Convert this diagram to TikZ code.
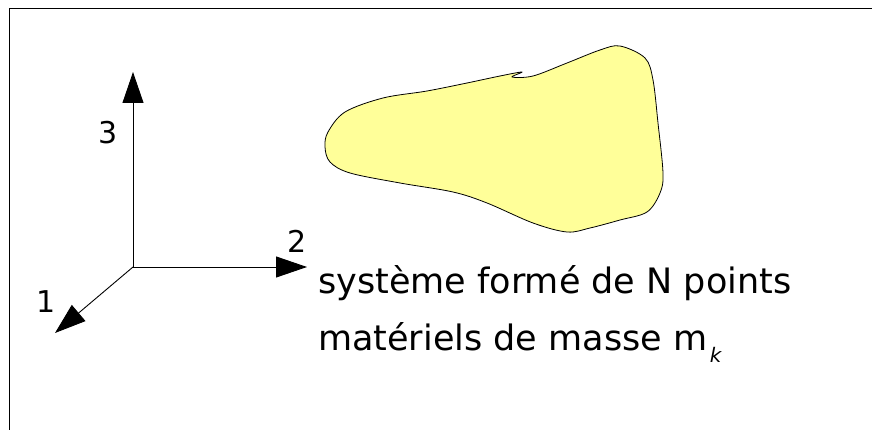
\documentclass[tikz,border=0pt]{standalone}
\usepackage{fontspec}
\setmainfont{DejaVu Sans}
\usetikzlibrary{arrows.meta}
\definecolor{blobfill}{HTML}{FFFF99}
\tikzset{
  axis/.style={line width=0.9pt, -{Triangle[length=31pt,width=21pt]}},
  lbl/.style={inner sep=0pt, font=\fontsize{30}{34}\selectfont},
  txt/.style={inner sep=0pt, anchor=base west, font=\fontsize{35}{40}\selectfont},
  subk/.style={inner sep=0pt, anchor=base west, font=\fontsize{20}{24}\selectfont\itshape},
  frame/.style={line width=1pt},
  blob/.style={draw=black, line width=0.8pt, fill=blobfill}
}
\begin{document}
\begin{tikzpicture}[x=1pt,y=-1pt]
\useasboundingbox (0,0) rectangle (872,430);
\draw[frame] (9,430) -- (9,9) -- (872,9);
% blob
\draw[blob] plot[smooth cycle, tension=0.55] coordinates {
 (620,46) (645,58) (653,80) (658,123) (663,173) (660,193) (647,212) (620,220)
 (590,228) (567,232) (533,223) (487,203) (453,192) (400,183) (350,173) (330,162)
 (325,147) (328,132) (345,112) (383,98) (427,91) (467,83) (500,76) (522,72)
 (512,77) (533,76) (567,63) (600,50)};
% axes
\coordinate (O) at (133,267);
\coordinate (T3) at (133,72);
\coordinate (T2) at (307,267);
\coordinate (T1) at (55,333);
\draw[axis] (O) -- (T3);
\draw[axis] (O) -- (T2);
\draw[axis] (O) -- (T1);
\node[lbl] (l3) at (108,133) {3};
\node[lbl] (l2) at (297,241) {2};
\node[lbl] (l1) at (46,302) {1};
\node[txt] (t1) at (318,293) {système formé de N points};
\node[txt] (t2) at (318,350) {matériels de masse m};
\node[subk] (k) at ([xshift=2pt]t2.base east) [yshift=-12pt] {k};
\end{tikzpicture}
\end{document}
